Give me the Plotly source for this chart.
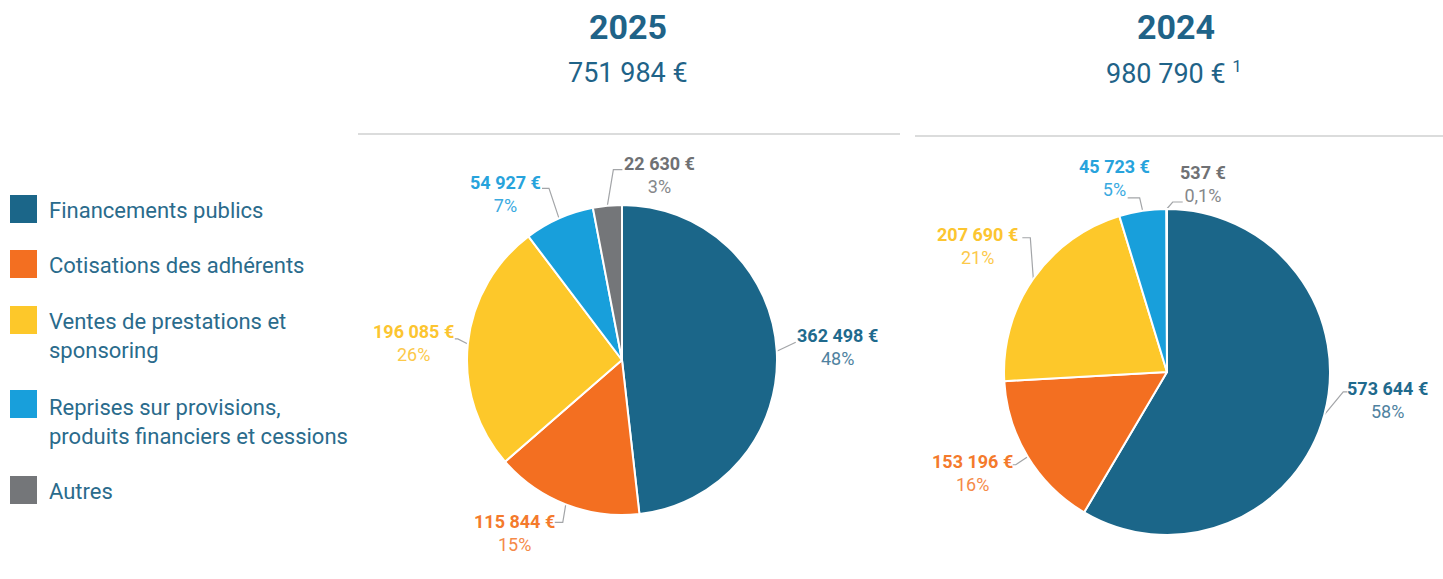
import math
import plotly.graph_objects as go

# ---------------- data ----------------
categories = [
    "Financements publics",
    "Cotisations des adhérents",
    "Ventes de prestations et<br>sponsoring",
    "Reprises sur provisions,<br>produits financiers et cessions",
    "Autres",
]
years = ["2025", "2024"]
values_2025 = [362498, 115844, 196085, 54927, 22630]
values_2024 = [573644, 153196, 207690, 45723, 537]
footnote_2024 = "1"

# ---------------- style ----------------
W, H = 1443, 579
slice_colors = ["#1b6689", "#f36f21", "#fdc82a", "#189fdb", "#747679"]
value_colors = ["#1f6a8d", "#f47a2c", "#fcc530", "#27a3dc", "#6f7174"]
pct_colors = ["#4f82a0", "#f58a48", "#fcc94a", "#3aaadf", "#85878a"]
title_color = "#1f6388"
legend_text_color = "#2a6b8c"
leader_color = "#a3a5a8"
FONT = "Roboto, Liberation Sans, sans-serif"

# pie geometry in pixels: centre x, centre y, radius
pie_geom = [(622, 360, 155), (1167, 372, 163)]
# label layout per slice: elbow offset, horizontal end dx, text block centre offset (relative to slice edge point)
label_style = [
    [((19, -9), 0, (61, -4)), ((-3, 18), -8, (-51, 29)), ((-10, -5), -3, (-54, -1)),
     ((-10, -30), -7, (-54, -24)), ((6, -36), 9, (52, -31))],
    [((19, -23), 4, (63, -15)), ((-12, 8), -3, (-55, 16)), ((-3, -41), -8, (-56, -33)),
     ((-3, -13), -12, (-28, -33)), ((6, -7), 10, (36, -25))],
]
year_x = [628, 1176]
total_x = [628, 1174]


def fmt_num(v):
    return f"{v:,}".replace(",", " ")


def fmt_pct(p):
    if p < 1:
        return f"{p:.1f}".replace(".", ",") + "%"
    return f"{round(p)}%"


fig = go.Figure()

all_values = [values_2025, values_2024]
annotations = []
shapes = []

for k, vals in enumerate(all_values):
    cx, cy, r = pie_geom[k]
    fig.add_trace(go.Pie(
        labels=[c.replace("<br>", " ") for c in categories],
        values=vals,
        sort=False,
        direction="clockwise",
        rotation=0,
        textinfo="none",
        hoverinfo="label+value+percent",
        marker=dict(colors=slice_colors, line=dict(color="white", width=2)),
        domain=dict(x=[(cx - r) / W, (cx + r) / W], y=[(H - (cy + r)) / H, (H - (cy - r)) / H]),
        showlegend=False,
    ))
    total = sum(vals)
    cum = 0
    for i, v in enumerate(vals):
        frac = v / total
        mid = (cum + frac / 2) * 2 * math.pi
        cum += frac
        ex, ey = cx + r * math.sin(mid), cy - r * math.cos(mid)
        (edx, edy), endx, (tx, ty) = label_style[k][i]
        bx, by = ex + edx, ey + edy
        fig.add_trace(go.Scatter(
            x=[ex, bx, bx + endx], y=[ey, by, by],
            mode="lines", line=dict(color=leader_color, width=1.2),
            hoverinfo="skip", showlegend=False, xaxis="x", yaxis="y",
        ))
        annotations.append(dict(
            x=ex + tx, y=ey + ty, xref="x", yref="y",
            text=f"<b>{fmt_num(v)} €</b><br><span style='color:{pct_colors[i]}'>{fmt_pct(frac * 100)}</span>",
            showarrow=False, xanchor="center", yanchor="middle", align="center",
            font=dict(family=FONT, size=18, color=value_colors[i]),
        ))
    # headers
    annotations.append(dict(
        x=year_x[k], y=27, xref="x", yref="y", text=f"<b>{years[k]}</b>",
        showarrow=False, xanchor="center", yanchor="middle",
        font=dict(family=FONT, size=34, color=title_color),
    ))
    tot_txt = f"{fmt_num(total)} €"
    if k == 1:
        tot_txt += f" <sup><span style='font-size:17px'>{footnote_2024}</span></sup>"
    annotations.append(dict(
        x=total_x[k], y=73, xref="x", yref="y", text=tot_txt,
        showarrow=False, xanchor="center", yanchor="middle",
        font=dict(family=FONT, size=27, color=title_color),
    ))

# horizontal rules
shapes.append(dict(type="line", xref="x", yref="y", x0=358, x1=900, y0=134, y1=134,
                   line=dict(color="#cfd1d1", width=1.5)))
shapes.append(dict(type="line", xref="x", yref="y", x0=915, x1=1443, y0=136, y1=136,
                   line=dict(color="#cfd1d1", width=1.5)))

# custom legend
legend_y = [209, 264, 320, 404, 490]
text_y = [210, 265, 336, 422, 491]
for i, cat in enumerate(categories):
    shapes.append(dict(type="rect", xref="x", yref="y", x0=10, x1=37,
                       y0=legend_y[i] - 14, y1=legend_y[i] + 14,
                       fillcolor=slice_colors[i], line=dict(width=0)))
    annotations.append(dict(
        x=47, y=text_y[i], xref="x", yref="y", text=cat, showarrow=False,
        xanchor="left", yanchor="middle", align="left",
        font=dict(family=FONT, size=22, color=legend_text_color),
    ))

fig.update_layout(
    width=W, height=H,
    margin=dict(l=0, r=0, t=0, b=0),
    paper_bgcolor="white", plot_bgcolor="rgba(0,0,0,0)",
    xaxis=dict(range=[0, W], domain=[0, 1], visible=False, fixedrange=True),
    yaxis=dict(range=[H, 0], domain=[0, 1], visible=False, fixedrange=True),
    annotations=annotations,
    shapes=shapes,
)

fig.write_html(
    "out.html",
    config={"displayModeBar": False},
    post_script="document.body.style.margin='0';document.body.style.overflow='hidden';",
)
